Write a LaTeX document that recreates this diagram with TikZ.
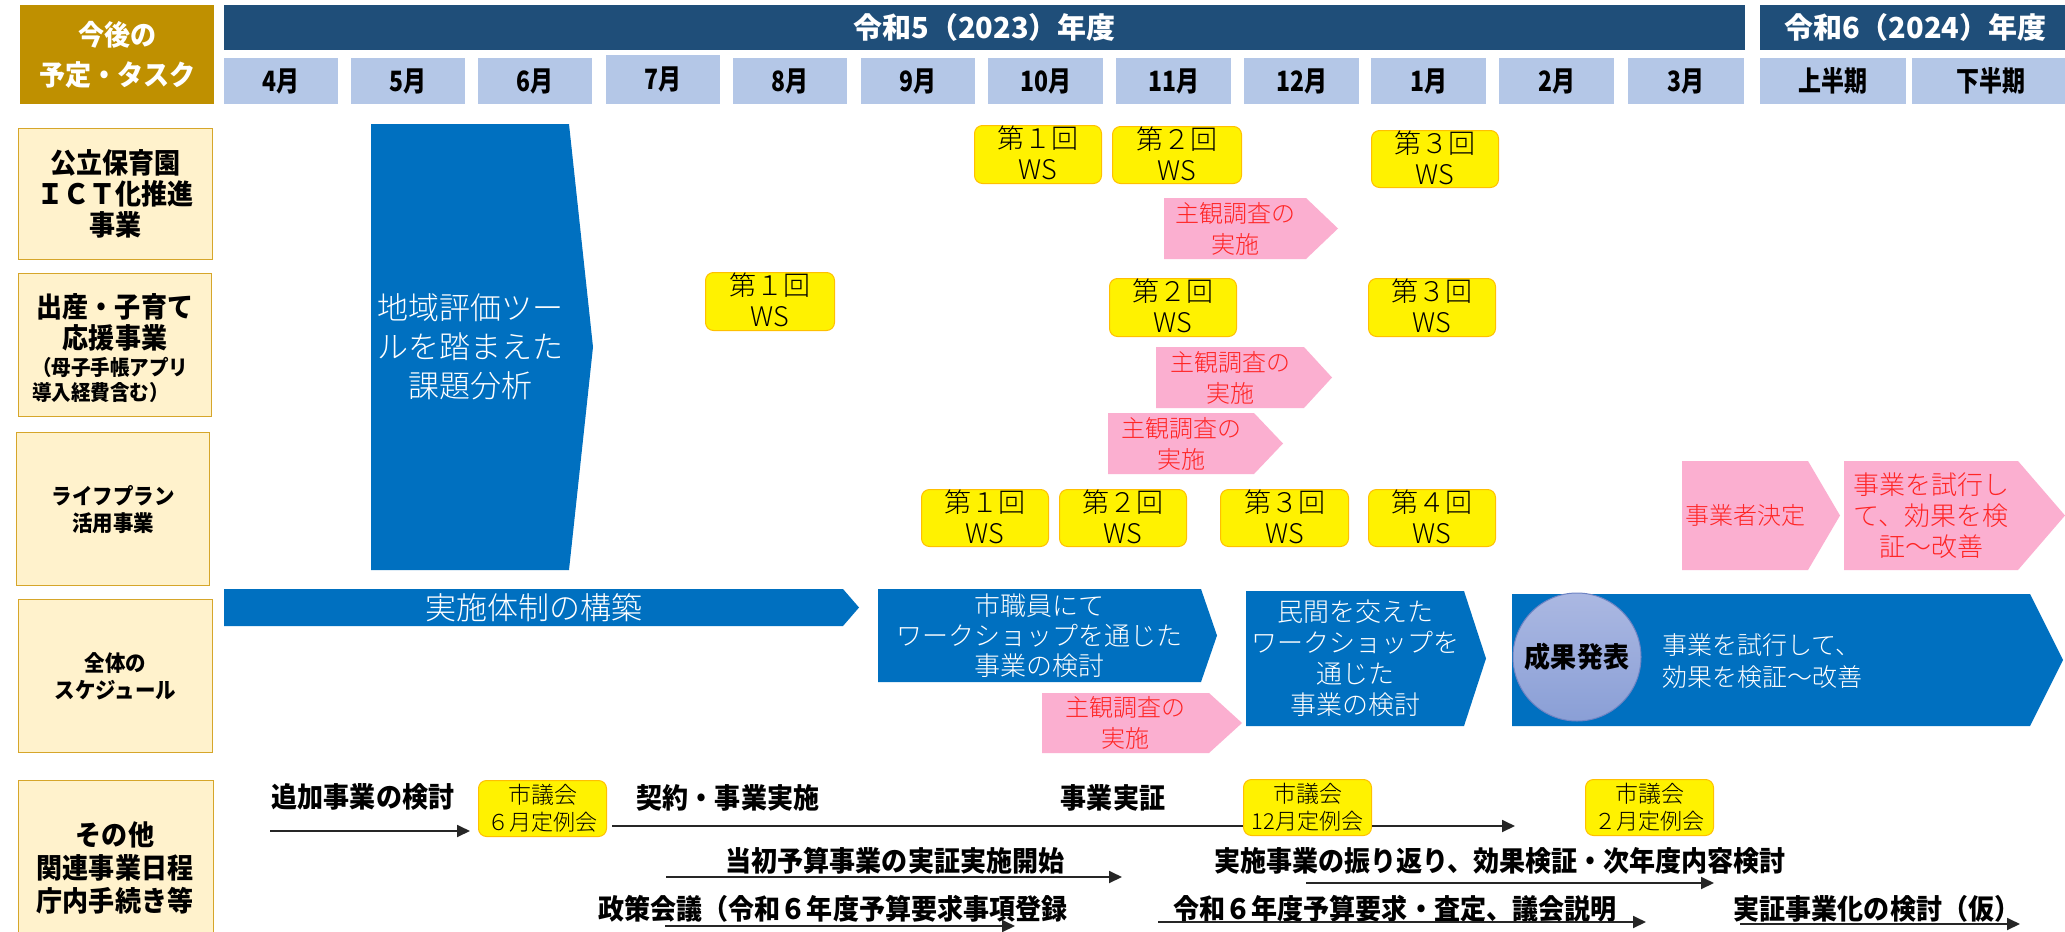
\documentclass[tikz,border=0pt]{standalone}
\usepackage{fontspec}
\setmainfont{Noto Sans CJK JP}
\newfontfamily\cnd{Noto Sans CJK JP}[FakeStretch=0.82]
\newfontfamily\cndb{Noto Sans CJK JP}[FakeStretch=0.93]
\newfontfamily\lt{Noto Sans CJK JP Light}
\usetikzlibrary{arrows.meta,calc}
\definecolor{hdr}{HTML}{1F4E79}
\definecolor{mon}{HTML}{B4C7E7}
\definecolor{goldbox}{HTML}{BF9000}
\definecolor{cream}{HTML}{FFF2CC}
\definecolor{creamline}{HTML}{D6A62A}
\definecolor{bl}{HTML}{0070C0}
\definecolor{pk}{HTML}{FBAFD0}
\definecolor{pktext}{HTML}{FF2525}
\definecolor{wsline}{HTML}{FFC000}
\definecolor{circA}{HTML}{ABB8E2}
\definecolor{circB}{HTML}{8A9FD6}
\definecolor{circline}{HTML}{6F84C4}
\newcommand\fsz[2]{\fontsize{#1}{#2}\selectfont}
% home-plate shape: name, x1, y1, x2 (rect right), tip x, y2, fill
\newcommand\hplate[7]{%
  \fill[#7] (#2,#3) -- (#4,#3) -- (#5,{(#3+#6)/2}) -- (#4,#6) -- (#2,#6) -- cycle;
  \coordinate (#1) at ({(#2+#4)/2},{(#3+#6)/2});}
% WS box: name, x, y, w, h, number
\newcommand\wsb[6]{%
  \node[wsbox,minimum width=#4pt,minimum height=#5pt] (#1) at (#2,#3) {};
  \node[wstext] (#1t) at ($(#1)+(0,-1.5)$) {第#6回\\WS};}
% council box: name, x, y, second line
\newcommand\gkb[4]{%
  \node[wsbox,minimum width=128pt,minimum height=56pt] (#1) at (#2,#3) {};
  \node[font=\lt\fsz{23}{23}] (#1a) at ($(#1.north)+(0,15)$) {市議会};
  \node[font=\lt\fsz{22}{22}] (#1b) at ($(#1.north)+(0,42)$) {#4};}
\begin{document}
\begin{tikzpicture}[x=1pt,y=-1pt,
  box/.style={anchor=north west,inner sep=0pt,align=center},
  hdrbox/.style={box,fill=hdr,text=white,font=\fsz{29}{32}\bfseries},
  monbox/.style={box,fill=mon,minimum height=46pt,font=\cnd\fsz{28}{30}\bfseries},
  labbox/.style={box,fill=cream,draw=creamline,line width=1.3pt},
  wsbox/.style={box,fill=yellow,draw=wsline,line width=1pt,rounded corners=8pt},
  wstext/.style={align=center,inner sep=0pt,font=\lt\fsz{27}{31}},
  bluetext/.style={text=white,align=center,inner sep=0pt},
  pinktext/.style={text=pktext,align=center,inner sep=0pt,font=\lt\fsz{24}{31}},
  boldlbl/.style={inner sep=0pt,font=\cndb\fsz{28}{30}\bfseries},
  ln/.style={line width=1.8pt,draw=black!85},
  arr/.style={ln,-{Triangle[length=13pt,width=12pt]}}]
\clip (0,0) rectangle (2065,932);
\fill[white] (0,0) rectangle (2065,932);

% ---------- header ----------
\node[hdrbox,fill=goldbox,minimum width=194pt,minimum height=99pt,font=\cndb\fsz{28}{40}\bfseries] (tl) at (20,5) {今後の\\予定・タスク};
\node[hdrbox,minimum width=1521pt,minimum height=45pt] (y5) at (224,5) {令和5（2023）年度};
\node[hdrbox,minimum width=310pt,minimum height=45pt] (y6) at (1760,5) {令和6（2024）年度};
\node[monbox,minimum width=114pt] (m4) at (224,58) {4月};
\node[monbox,minimum width=114pt] (m5) at (351,58) {5月};
\node[monbox,minimum width=114pt] (m6) at (478,58) {6月};
\node[monbox,minimum width=114pt,minimum height=49pt] (m7) at (606,55) {7月};
\node[monbox,minimum width=114pt] (m8) at (733,58) {8月};
\node[monbox,minimum width=114pt] (m9) at (861,58) {9月};
\node[monbox,minimum width=115pt] (m10) at (988,58) {10月};
\node[monbox,minimum width=115pt] (m11) at (1116,58) {11月};
\node[monbox,minimum width=115pt] (m12) at (1244,58) {12月};
\node[monbox,minimum width=115pt] (m1) at (1371,58) {1月};
\node[monbox,minimum width=115pt] (m2) at (1499,58) {2月};
\node[monbox,minimum width=116pt] (m3) at (1628,58) {3月};
\node[monbox,minimum width=146pt] (h1) at (1760,58) {上半期};
\node[monbox,minimum width=158pt] (h2) at (1912,58) {下半期};

% ---------- left labels ----------
\node[labbox,minimum width=194pt,minimum height=131pt,font=\cndb\fsz{28}{31}\bfseries] (c1) at (18,128) {公立保育園\\ＩＣＴ化推進\\事業};
\node[labbox,minimum width=193pt,minimum height=143pt] (c2) at (18,273) {};
\node[boldlbl,align=center,font=\cndb\fsz{28}{31}\bfseries] (c2a) at (115,322) {出産・子育て\\応援事業};
\node[boldlbl,align=left,anchor=west,font=\cndb\fsz{21}{25}\bfseries] (c2b) at (32,380) {（母子手帳アプリ\\導入経費含む）};
\node[labbox,minimum width=193pt,minimum height=153pt,font=\cndb\fsz{22}{27}\bfseries] (c3) at (16,432) {ライフプラン\\活用事業};
\node[labbox,minimum width=194pt,minimum height=153pt,font=\cndb\fsz{22}{27}\bfseries] (c4) at (18,599) {全体の\\スケジュール};
\node[labbox,minimum width=195pt,minimum height=170pt] (c5) at (18,780) {};
\node[boldlbl,align=center,font=\cndb\fsz{28}{33}\bfseries] (c5t) at (115,868) {その他\\関連事業日程\\庁内手続き等};

% ---------- big blue analysis ----------
\hplate{s1}{371}{124}{569}{593}{570}{bl}
\node[bluetext,font=\lt\fsz{31}{39}] (s1t) at (s1) {地域評価ツー\\ルを踏まえた\\課題分析};

% ---------- WS boxes ----------
\wsb{w11}{974}{125}{127}{58}{１}
\wsb{w12}{1112}{126}{129}{57}{２}
\wsb{w13}{1371}{130}{127}{57}{３}
\wsb{w21}{705}{272}{129}{58}{１}
\wsb{w22}{1109}{278}{127}{58}{２}
\wsb{w23}{1368}{278}{127}{58}{３}
\wsb{w31}{921}{489}{127}{57}{１}
\wsb{w32}{1059}{489}{127}{57}{２}
\wsb{w33}{1220}{489}{128}{57}{３}
\wsb{w34}{1368}{489}{127}{57}{４}

% ---------- pink arrows ----------
\hplate{p1}{1164}{198}{1306}{1338}{259}{pk}
\node[pinktext] (p1t) at (p1) {主観調査の\\実施};
\hplate{p2}{1156}{347}{1304}{1332}{408}{pk}
\node[pinktext] (p2t) at (p2) {主観調査の\\実施};
\hplate{p3}{1108}{413}{1254}{1283}{474}{pk}
\node[pinktext] (p3t) at (p3) {主観調査の\\実施};
\hplate{p5}{1682}{461}{1808}{1840}{570}{pk}
\node[pinktext] (p5t) at (p5) {事業者決定};
\hplate{p6}{1844}{461}{2018}{2065}{570}{pk}
\node[pinktext,font=\lt\fsz{26}{31}] (p6t) at (p6) {事業を試行し\\て、効果を検\\証～改善};

% ---------- overall schedule ----------
\hplate{s2}{224}{589}{843}{859}{626}{bl}
\node[bluetext,font=\lt\fsz{31}{36}] (s2t) at (s2) {実施体制の構築};
\hplate{s3}{878}{589}{1201}{1217}{682}{bl}
\node[bluetext,font=\lt\fsz{26}{30}] (s3t) at (s3) {市職員にて\\ワークショップを通じた\\事業の検討};
\hplate{p4}{1042}{693}{1209}{1242}{753}{pk}
\node[pinktext] (p4t) at (p4) {主観調査の\\実施};
\hplate{s4}{1246}{591}{1464}{1486}{726}{bl}
\node[bluetext,font=\lt\fsz{26}{31}] (s4t) at (s4) {民間を交えた\\ワークショップを\\通じた\\事業の検討};
\hplate{s5}{1512}{594}{2030}{2063}{726}{bl}
\node[circle,minimum size=128pt,inner sep=0pt,top color=circA,bottom color=circB,draw=circline,line width=1pt,font=\cndb\fsz{28}{30}\bfseries] (pres) at (1577,657) {成果発表};
\node[bluetext,align=left,anchor=west,font=\lt\fsz{25}{32}] (s5t) at (1662,661) {事業を試行して、\\効果を検証～改善};

% ---------- other schedule ----------
\node[boldlbl] (t1) at (363,797) {追加事業の検討};
\coordinate (a1s) at (270,831);
\coordinate (a1e) at (470,831);
\draw[arr] (a1s) -- (a1e);
\gkb{g6}{478}{780}{６月定例会}
\gkb{g12}{1243}{779}{12月定例会}
\gkb{g2}{1585}{779}{２月定例会}
\node[boldlbl] (t2) at (728,798) {契約・事業実施};
\node[boldlbl] (t3) at (1113,798) {事業実証};
\coordinate (l1s) at (612,826);
\coordinate (l1e) at (1515,826);
\draw[ln] (l1s) -- (l1s -| g12.west);
\draw[arr] (l1e -| g12.east) -- (l1e);

\node[boldlbl] (t4) at (895,861) {当初予算事業の実証実施開始};
\coordinate (a2s) at (666,877);
\coordinate (a2e) at (1122,877);
\draw[arr] (a2s) -- (a2e);
\node[boldlbl] (t5) at (1500,861) {実施事業の振り返り、効果検証・次年度内容検討};
\coordinate (a3s) at (1306,883);
\coordinate (a3e) at (1714,883);
\draw[arr] (a3s) -- (a3e);
\node[boldlbl] (t6) at (833,909) {政策会議（令和６年度予算要求事項登録};
\coordinate (a4s) at (665,926);
\coordinate (a4e) at (1015,926);
\draw[arr] (a4s) -- (a4e);
\node[boldlbl] (t7) at (1395,909) {令和６年度予算要求・査定、議会説明};
\coordinate (a5s) at (1158,922);
\coordinate (a5e) at (1646,922);
\draw[arr] (a5s) -- (a5e);
\node[boldlbl] (t8) at (1877,909) {実証事業化の検討（仮）};
\coordinate (a6s) at (1740,924);
\coordinate (a6e) at (2020,924);
\draw[arr] (a6s) -- (a6e);
\end{tikzpicture}
\end{document}
